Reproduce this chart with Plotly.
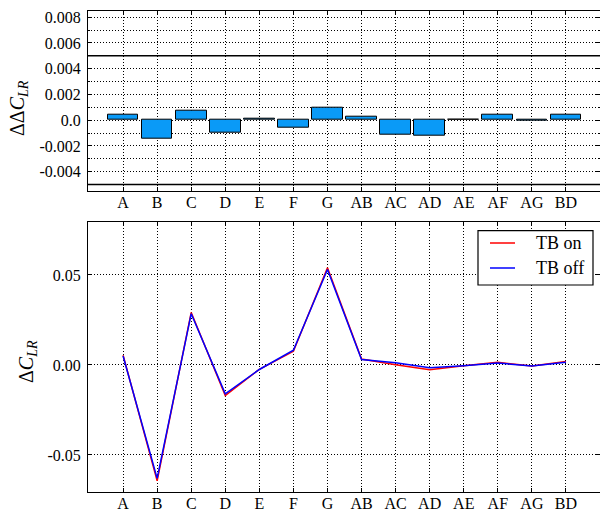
import plotly.graph_objects as go
from plotly.subplots import make_subplots

# Interaction terms on the x axis
terms = ["A", "B", "C", "D", "E", "F", "G", "AB", "AC", "AD", "AE", "AF", "AG", "BD"]

# Change in lift-rise coefficient with the trailing-edge bump on / off
dc_tb_on = [0.0054, -0.0644, 0.0292, -0.0170, -0.0024, 0.0076, 0.0540,
            0.0033, 0.0001, -0.0027, -0.0004, 0.0015, -0.0006, 0.0019]
dc_tb_off = [0.0050, -0.0630, 0.0285, -0.0160, -0.0025, 0.0082, 0.0530,
             0.0030, 0.0012, -0.0015, -0.0004, 0.0011, -0.0006, 0.0015]

# Difference between the two settings
ddc = [0.0004, -0.0014, 0.0007, -0.0010, 0.0001, -0.0006, 0.0010,
       0.0003, -0.0011, -0.0012, 0.00002, 0.0004, -0.00002, 0.0004]

# Threshold levels drawn across the upper panel
threshold_levels = [0.005, -0.005]

top_ticks = [0.008, 0.006, 0.004, 0.002, 0.0, -0.002, -0.004]
top_ticktext = ["0.008", "0.006", "0.004", "0.002", "0.0", "-0.002", "-0.004"]
bot_ticks = [0.05, 0.0, -0.05]
bot_ticktext = ["0.05", "0.00", "-0.05"]

series_names = ["TB on", "TB off"]
series_colors = ["red", "blue"]

FONT = "Liberation Serif"
W, H = 600, 515
L = 88

def px_x(p):
    return (p - L) / (W - L)

def px_yp(p):
    return 1 - p / H

fig = make_subplots(rows=2, cols=1)

xpos = list(range(len(terms)))

fig.add_trace(go.Bar(x=xpos, y=ddc, width=0.9,
                     marker=dict(color="#0a9af7", line=dict(color="black", width=1)),
                     showlegend=False), row=1, col=1)

for name, vals, col in zip(series_names, [dc_tb_on, dc_tb_off], series_colors):
    fig.add_trace(go.Scatter(x=xpos, y=vals, mode="lines", name=name,
                             line=dict(color=col, width=1.5), showlegend=False),
                  row=2, col=1)

for lvl in threshold_levels:
    fig.add_shape(type="line", xref="x domain", yref="y", x0=0, x1=1, y0=lvl, y1=lvl,
                  line=dict(color="black", width=1.5))

DOT = "1px,2px"
axis_common = dict(showline=True, linecolor="black", linewidth=1, mirror="ticks",
                   ticks="inside", ticklen=4, tickcolor="black", tickwidth=1,
                   showgrid=True, gridcolor="black", gridwidth=1, griddash=DOT,
                   zeroline=False, automargin=False,
                   tickfont=dict(family=FONT, size=16, color="black"))

fig.update_xaxes(**axis_common)
fig.update_yaxes(**axis_common)

fig.update_xaxes(range=[-1.03, 14.0], tickvals=xpos, ticktext=terms, domain=[0, 1],
                 ticklabelstandoff=-3)
fig.update_yaxes(row=1, col=1, range=[-0.0055, 0.0085], tickvals=top_ticks,
                 ticktext=top_ticktext, domain=[px_yp(191), px_yp(10.7)],
                 ticklabelstandoff=3,
                 minor=dict(tick0=0, dtick=0.001, showgrid=True, gridcolor="black",
                            gridwidth=1, griddash=DOT, ticks="inside", ticklen=2,
                            tickcolor="black"))
fig.update_yaxes(row=2, col=1, range=[-0.0704, 0.0796], tickvals=bot_ticks,
                 ticktext=bot_ticktext, domain=[px_yp(491.7), px_yp(221.7)],
                 ticklabelstandoff=3)

# Axis titles
fig.add_annotation(text="ΔΔ<i>C</i><sub><i>LR</i></sub>", xref="paper", yref="paper",
                   x=px_x(19), y=px_yp(108), xanchor="center", yanchor="middle",
                   textangle=-90, showarrow=False,
                   font=dict(family=FONT, size=20, color="black"))
fig.add_annotation(text="Δ<i>C</i><sub><i>LR</i></sub>", xref="paper", yref="paper",
                   x=px_x(27), y=px_yp(362), xanchor="center", yanchor="middle",
                   textangle=-90, showarrow=False,
                   font=dict(family=FONT, size=20, color="black"))

# Legend box for the lower panel
fig.add_shape(type="rect", xref="paper", yref="paper",
              x0=px_x(478), x1=px_x(593), y0=px_yp(285), y1=px_yp(230.7),
              fillcolor="white", line=dict(color="black", width=1.2), layer="above")
for i, (name, col) in enumerate(zip(series_names, series_colors)):
    row_y = 243 + 25 * i
    fig.add_shape(type="line", xref="paper", yref="paper",
                  x0=px_x(490), x1=px_x(515), y0=px_yp(row_y), y1=px_yp(row_y),
                  line=dict(color=col, width=1.5), layer="above")
    fig.add_annotation(text=name, xref="paper", yref="paper",
                       x=px_x(534), y=px_yp(row_y), xanchor="left", yanchor="middle",
                       showarrow=False,
                       font=dict(family=FONT, size=18, color="black"))

fig.update_layout(
    width=W, height=H,
    font=dict(family=FONT, size=16, color="black"),
    margin=dict(l=L, r=0, t=0, b=0),
    paper_bgcolor="white", plot_bgcolor="white",
    bargap=0,
    showlegend=False,
)

fig.write_html("out.html")
